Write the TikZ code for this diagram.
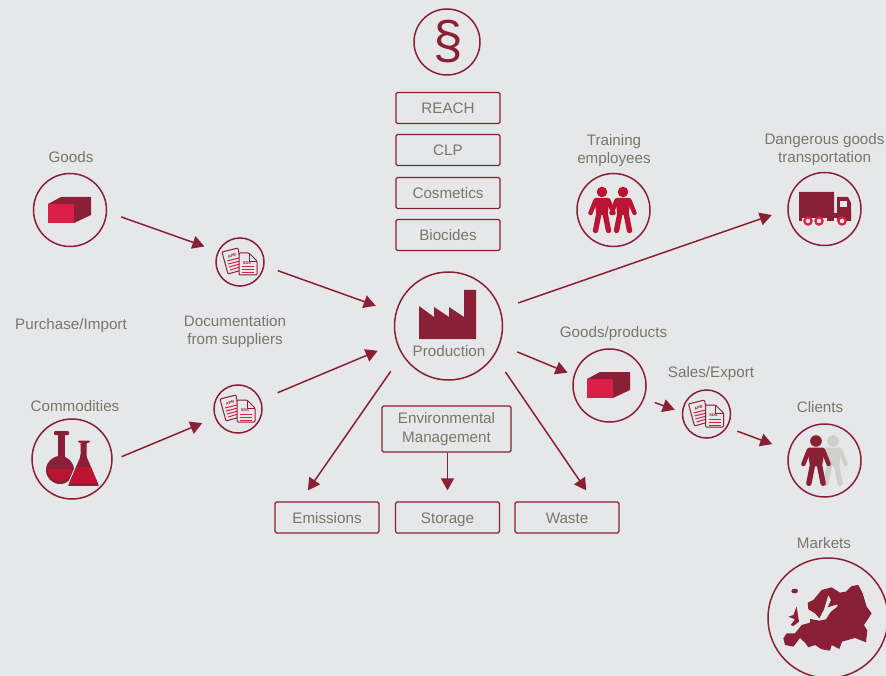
\documentclass[tikz,border=0pt]{standalone}
\usepackage{fontspec}
\setmainfont{Liberation Sans}
\usepackage{tikz}
\usetikzlibrary{arrows.meta,positioning}
\definecolor{wine}{HTML}{8A2035}
\definecolor{crimson}{HTML}{DC1F46}
\definecolor{ruby}{HTML}{BC1533}
\definecolor{greytext}{HTML}{77776A}
\definecolor{paper}{HTML}{E6E7E9}
\definecolor{ghost}{HTML}{D0CFC9}
\newcommand{\boxIcon}[2]{
    \begin{scope}[shift={(#1,#2)}]
        \fill[wine] (-22,-6) -- (-9,-13) -- (21,-13) -- (21,5) -- (4,13) -- (4,-6) -- cycle;
        \fill[crimson] (-22,-6) rectangle (4,13);
    \end{scope}
}
\newcommand{\docIcon}[3]{
    \begin{scope}[shift={(#1,#2)}]
        \filldraw[wine,fill=paper,line width=1pt,rounded corners=1pt] (-18,-10) -- (-2,-14) -- (2,8) -- (-12,12) -- cycle;
        \draw[crimson,line width=1pt] (-13,-1) -- (-1,-4) (-12,2) -- (0,-1) (-11,5) -- (0,2) (-10,8) -- (0,5);
        \node[apbtext,rotate=15] (#3apb) at (-8,-6) {APB};
        \filldraw[wine,fill=paper,line width=1pt,rounded corners=1pt] (-1,-9) -- (9,-9) -- (17,-1) -- (17,13) -- (-1,13) -- cycle;
        \draw[wine,line width=.8pt] (9,-9) -- (9,-1) -- (17,-1);
        \draw[crimson,line width=1pt] (2,5) -- (14,5) (2,8) -- (14,8) (2,11) -- (14,11);
        \node[apbtext] (#3sds) at (7,1) {SDS};
    \end{scope}
}
\newcommand{\personIcon}[4]{
    \begin{scope}[shift={(#1,#2)},scale=#4,line cap=round]
        \fill[#3] (0,0) circle (5.3);
        \fill[#3,rounded corners=1.5pt] (-8,6) -- (8,6) -- (5.5,23) -- (-5.5,23) -- cycle;
        \draw[#3,line width=4.4pt] (-6.5,8.5) -- (-11.5,21) (6.5,8.5) -- (11.5,21);
        \draw[#3,line width=5.4pt] (-3,21) -- (-6.5,38.5) (3,21) -- (6.5,38.5);
    \end{scope}
}
\begin{document}
\begin{tikzpicture}[x=1pt,y=-1pt,>={Triangle[length=12pt,width=13pt]},node distance=42pt]
        \tikzset{
           ring/.style={
                        circle,
                        draw=wine,
                        line width=1.5pt,
                        inner sep=0pt,
                        fill=none
                       },
           tag/.style={
                        rectangle,
                        rounded corners=1.5pt,
                        draw=wine,
                        line width=1.2pt,
                        text=greytext,
                        font=\fontsize{15.2}{19}\selectfont,
                        minimum width=104pt,
                        minimum height=31pt,
                        text height=13pt,
                        text depth=1pt,
                        inner sep=0pt
                       },
           caption/.style={
                        text=greytext,
                        font=\fontsize{15.2}{18}\selectfont,
                        align=center,
                        inner sep=0pt
                       },
           apbtext/.style={
                        text=wine,
                        font=\bfseries\fontsize{4}{4}\selectfont,
                        inner sep=0pt
                       },
           flow/.style={
                        ->,
                        color=wine,
                        line width=1.5pt
                       },
                 };
        \clip (0,0) rectangle (886,676);
        \fill[paper] (0,0) rectangle (886,676);
    %--------------------
        \node[ring,minimum size=66pt]  (law)     at (447,42)  {};
        \node[text=wine,font=\fontsize{53}{53}\selectfont,inner sep=0pt] (lawSign) at (448,42) {\S};
        \node[tag]                     (reach)   at (448,108) {REACH};
        \node[tag] (clp)      [below of=reach]    {CLP};
        \node[tag] (cosmetics) [below of=clp,node distance=43pt] {Cosmetics};
        \node[tag] (biocides) [below of=cosmetics] {Biocides};

        \node[ring,minimum size=108pt] (prod)    at (448.5,326) {};
        \node[caption] (prodText) at (449,351.5) {Production};

        \node[ring,minimum size=73pt]  (goods)   at (70,210)  {};
        \node[caption] (goodsText) at (71,157) {Goods};
        \node[ring,minimum size=80pt]  (commod)  at (72,459)  {};
        \node[caption] (commodText) at (75,406) {Commodities};
        \node[caption] (purchase) at (71,326) {Purchase/Import};

        \node[ring,minimum size=48pt]  (docA)    at (240,262) {};
        \node[ring,minimum size=48pt]  (docB)    at (238,409) {};
        \node[caption] (suppliers) at (235,332) {Documentation\\from suppliers};

        \node[ring,minimum size=73pt]  (train)   at (613.5,210) {};
        \node[caption] (trainText) at (614,151) {Training\\employees};
        \node[ring,minimum size=73pt]  (truck)   at (824.5,209) {};
        \node[caption] (truckText) at (824.5,150) {Dangerous goods\\transportation};

        \node[ring,minimum size=73pt]  (goodsOut) at (609.5,385.5) {};
        \node[caption] (goodsOutText) at (613.5,334) {Goods/products};
        \node[ring,minimum size=48pt]  (docC)    at (706.5,414) {};
        \node[caption] (sales) at (711,374) {Sales/Export};
        \node[ring,minimum size=73pt]  (clients) at (824.5,460.5) {};
        \node[caption] (clientsText) at (820,407) {Clients};
        \node[ring,minimum size=120pt] (markets) at (828,618) {};
        \node[caption] (marketsText) at (824,543) {Markets};

        \node[tag,minimum width=129pt,minimum height=46pt,align=center,text height=,text depth=] (env) at (446.5,429) {Environmental\\Management};
        \node[tag] (storage) at (447.5,517.5) {Storage};
        \node[tag] (emissions) [left of=storage,node distance=120.5pt] {Emissions};
        \node[tag] (waste) [right of=storage,node distance=119.5pt] {Waste};
    %--------------------
        \fill[wine] (419,306) -- (434,317) -- (434,307) -- (449,317) -- (449,307) -- (464,317)
                 -- (464,290) -- (476,290) -- (476,339) -- (419,339) -- cycle;

        \boxIcon{70}{210}
        \boxIcon{609}{385}
        \docIcon{240}{262}{docA}
        \docIcon{238}{409}{docB}
        \docIcon{706.5}{414}{docC}

        % flasks
        \fill[wine,rounded corners=1pt] (54,431) rectangle (69,435);
        \fill[wine] (58,435) rectangle (65,457);
        \fill[wine] (60,470) circle (14);
        \fill[ruby] (48,469) arc[start angle=180,end angle=0,radius=12] -- cycle;
        \filldraw[wine,draw=paper,line width=1pt,rounded corners=2pt] (77,440) -- (91,440) -- (91,443) -- (87,443) -- (87,456) -- (100,486.5) -- (67,486.5) -- (80,456) -- (80,443) -- (77,443) -- cycle;
        \fill[ruby] (76,467) -- (91,467) -- (97,483) -- (70,483) -- cycle;

        % truck
        \fill[wine] (799,192) rectangle (834,213) (799,213) rectangle (851,218) (799,213) rectangle (802,221);
        \fill[wine] (837,197) -- (848,197) -- (851,203) -- (851,221) -- (837,221) -- cycle;
        \fill[paper] (839.5,201) rectangle (847,207);
        \foreach \wx in {808,819,842}{
            \filldraw[crimson,fill=paper,line width=2.2pt] (\wx,221) circle (3.6);
        }
        \fill[wine] (827,218) rectangle (834,221);

        % people
        \personIcon{602}{192}{ruby}{1}
        \personIcon{623}{192}{ruby}{1}
        \personIcon{833}{441}{ghost}{1.1}
        \personIcon{816}{441}{wine}{1.1}

        % europe
        \begin{scope}[shift={(760,550)},scale=0.3333]
            \fill[wine] (70,265) -- (75,285) -- (100,290) -- (120,264) -- (135,278) -- (145,292) -- (165,285)
                -- (185,298) -- (210,302) -- (215,285) -- (238,297) -- (246,275) -- (285,264) -- (318,277)
                -- (322,242) -- (312,225) -- (335,190) -- (320,170) -- (308,130) -- (295,105) -- (275,108)
                -- (258,125) -- (240,128) -- (215,112) -- (185,120) -- (160,150) -- (143,158) -- (145,178)
                -- (165,190) -- (178,205) -- (192,178) -- (205,135) -- (213,150) -- (203,172) -- (232,163)
                -- (232,170) -- (212,186) -- (198,208) -- (178,212) -- (150,207) -- (150,218) -- (125,225)
                -- (105,250) -- (80,250) -- cycle;
            \fill[wine] (100,195) -- (110,170) -- (117,215) -- (100,228) -- (92,225) -- (105,208) -- (85,200) -- cycle;
            \fill[wine] (104,123) ellipse (10 and 7);
        \end{scope}
    %--------------------
        \path (goods.-3.2)   edge[flow,shorten <=14.9pt,shorten >=14.1pt] (docA.154.6)
              (docA.-9.8)    edge[flow,shorten <=14.2pt,shorten >=20.8pt] (prod.166.2)
              (commod.-2.3)  edge[flow,shorten <=9.7pt,shorten >=13.7pt] (docB.201.8)
              (docB.22.5)    edge[flow,shorten <=18.1pt,shorten >=20.3pt] (prod.198.8)
              (prod.18.2)    edge[flow,shorten <=18.7pt,shorten >=16.4pt] (truck.181)
              (prod.-20.9)   edge[flow,shorten <=18.8pt,shorten >=6.7pt] (goodsOut.164.5)
              (goodsOut.-21.5) edge[flow,shorten <=11.2pt,shorten >=7.5pt] (docC.176.7)
              (docC.-33.4)   edge[flow,shorten <=10.7pt,shorten >=17.5pt] (clients.164.2)
              (prod.212.1)   edge[flow,shorten <=19.8pt,shorten >=13.4pt] (emissions.149.6)
              (prod.-33.5)   edge[flow,shorten <=19.6pt,shorten >=13.3pt] (waste.31.5)
              (env.south -| storage) edge[flow,shorten >=11pt] (storage)
        ;
    \end{tikzpicture}
\end{document}
